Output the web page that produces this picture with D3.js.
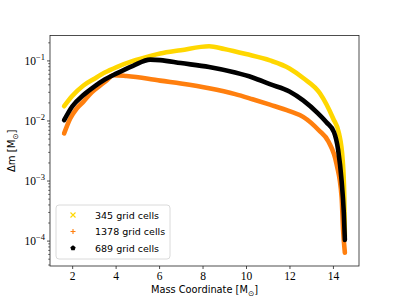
<!DOCTYPE html>
<html><head><meta charset="utf-8">
<script src="https://cdn.jsdelivr.net/npm/d3@7"></script>
<style>body{margin:0;background:#fff}</style>
</head><body>
<svg id="c" width="399" height="299"></svg>
<script>
const seriesNames = ["345 grid cells", "1378 grid cells", "689 grid cells"];
const seriesColors = ["#FFD700", "#FF7F0E", "#000000"];

const x345 = [1.63, 2.0, 2.52, 3.0, 3.5, 4.05, 4.8, 5.6, 6.05, 7.0, 8.3, 9.0, 10.0, 11.1, 12.0, 12.63, 13.4, 14.01, 14.28, 14.45, 14.52, 14.55];
const y345 = [0.0176, 0.026, 0.039, 0.05, 0.064, 0.079, 0.1, 0.121, 0.133, 0.151, 0.176, 0.158, 0.13, 0.102, 0.075, 0.052, 0.029, 0.011, 0.0062, 0.0022, 0.0006, 0.00012];

const x1378 = [1.63, 1.91, 2.2, 2.52, 2.9, 3.29, 3.6, 3.9, 4.5, 5.5, 6.05, 7.0, 8.3, 9.5, 10.3, 11.1, 12.0, 12.63, 13.35, 13.8, 14.17, 14.4, 14.47, 14.55];
const y1378 = [0.0062, 0.011, 0.016, 0.021, 0.03, 0.039, 0.048, 0.058, 0.056, 0.0505, 0.047, 0.042, 0.035, 0.028, 0.023, 0.0187, 0.0146, 0.0117, 0.007, 0.0045, 0.0019, 0.00054, 0.00015, 0.000064];

const x689 = [1.63, 2.0, 2.52, 3.0, 3.5, 4.05, 4.8, 5.59, 6.05, 7.0, 8.3, 9.5, 10.3, 11.1, 12.0, 12.63, 13.3, 13.7, 14.05, 14.24, 14.4, 14.5, 14.55];
const y689 = [0.0103, 0.0174, 0.027, 0.037, 0.049, 0.062, 0.083, 0.105, 0.103, 0.092, 0.079, 0.064, 0.053, 0.041, 0.031, 0.022, 0.0135, 0.0095, 0.0065, 0.0033, 0.001, 0.0003, 0.000105];

const xTicks = [2, 4, 6, 8, 10, 12, 14];
const yTicks = [1e-4, 1e-3, 1e-2, 1e-1];
const yTickExp = ["\u22124", "\u22123", "\u22122", "\u22121"];

const m = {l: 50, r: 359, t: 35.5, b: 266};
const svg = d3.select("#c");
const x = d3.scaleLinear().domain([0.98, 15.2]).range([m.l, m.r]);
const y = d3.scaleLog().domain([3.85e-5, 0.265]).range([m.b, m.t]);

const series = [
  {name: seriesNames[0], color: seriesColors[0], xs: x345, ys: y345, marker: "x"},
  {name: seriesNames[1], color: seriesColors[1], xs: x1378, ys: y1378, marker: "+"},
  {name: seriesNames[2], color: seriesColors[2], xs: x689, ys: y689, marker: "p"}
];

svg.append("clipPath").attr("id", "pc").append("rect")
  .attr("x", m.l).attr("y", m.t).attr("width", m.r - m.l).attr("height", m.b - m.t);

const line = d3.line().x(d => x(d[0])).y(d => y(d[1])).curve(d3.curveMonotoneX);
const g = svg.append("g").attr("clip-path", "url(#pc)");
series.forEach(s => {
  const pts = s.xs.map((v, i) => [v, s.ys[i]]);
  g.append("path").attr("d", line(pts)).attr("fill", "none")
    .attr("stroke", s.color).attr("stroke-width", 4.6)
    .attr("stroke-linejoin", "round").attr("stroke-linecap", "round");
});

const serif = "'Liberation Serif', 'DejaVu Serif', serif";
const xAxis = d3.axisBottom(x).tickValues(xTicks).tickSize(3).tickPadding(3).tickFormat(d3.format("d"));
const gx = svg.append("g").attr("transform", `translate(0,${m.b})`).call(xAxis);
gx.select(".domain").remove();
gx.selectAll("line").attr("stroke", "#000").attr("stroke-width", 0.7);
gx.selectAll("text").attr("font-family", serif).attr("font-size", 11.5).attr("fill", "#000");

const gy = svg.append("g").attr("transform", `translate(${m.l},0)`);
yTicks.forEach((v, i) => {
  gy.append("line").attr("x1", -3).attr("x2", 0).attr("y1", y(v)).attr("y2", y(v)).attr("stroke", "#000").attr("stroke-width", 0.7);
  const t = gy.append("text").attr("x", -5).attr("y", y(v) + 4).attr("text-anchor", "end")
    .attr("font-family", serif).attr("font-size", 11.5).attr("fill", "#000");
  t.append("tspan").text("10");
  t.append("tspan").attr("dy", -5).attr("font-size", 8.5).text(yTickExp[i]);
});
const [y0, y1] = y.domain();
for (let e = -5; e <= 0; e++) {
  for (let k = 2; k <= 9; k++) {
    const v = k * Math.pow(10, e);
    if (v > y0 && v < y1) {
      gy.append("line").attr("x1", -1.8).attr("x2", 0).attr("y1", y(v)).attr("y2", y(v)).attr("stroke", "#000").attr("stroke-width", 0.6);
    }
  }
}

svg.append("rect").attr("x", m.l).attr("y", m.t).attr("width", m.r - m.l).attr("height", m.b - m.t)
  .attr("fill", "none").attr("stroke", "#222").attr("stroke-width", 0.8);

const sans = "'DejaVu Sans', 'Open Sans', sans-serif";
const xl = svg.append("text").attr("x", (m.l + m.r) / 2).attr("y", 293).attr("text-anchor", "middle")
  .attr("font-family", sans).attr("font-size", 9.8).attr("fill", "#000");
xl.append("tspan").text("Mass Coordinate [M");
xl.append("tspan").attr("dy", 2.5).attr("font-size", 7.5).text("\u2299");
xl.append("tspan").attr("dy", -2.5).text("]");

const yl = svg.append("text").attr("transform", `translate(15,${(m.t + m.b) / 2}) rotate(-90)`).attr("text-anchor", "middle")
  .attr("font-family", sans).attr("font-size", 10).attr("fill", "#000");
yl.append("tspan").text("\u0394m [M");
yl.append("tspan").attr("dy", 2.5).attr("font-size", 7.5).text("\u2299");
yl.append("tspan").attr("dy", -2.5).text("]");

const lg = svg.append("g");
lg.append("rect").attr("x", 56).attr("y", 205).attr("width", 114).attr("height", 54).attr("rx", 3)
  .attr("fill", "#fff").attr("fill-opacity", 0.8).attr("stroke", "#d0d0d0").attr("stroke-width", 0.8);
const rowsY = [215, 231.5, 248];
function markerPath(type, r) {
  if (type === "x") return `M${-r},${-r}L${r},${r}M${-r},${r}L${r},${-r}`;
  if (type === "+") return `M${-r},0L${r},0M0,${-r}L0,${r}`;
  const p = d3.range(5).map(i => { const a = -Math.PI / 2 + i * 2 * Math.PI / 5; return [r * Math.cos(a), r * Math.sin(a)]; });
  return "M" + p.map(q => q.join(",")).join("L") + "Z";
}
series.forEach((s, i) => {
  const mk = lg.append("path").attr("transform", `translate(73,${rowsY[i]})`).attr("d", markerPath(s.marker, s.marker === "p" ? 2.8 : 2.5));
  if (s.marker === "p") mk.attr("fill", s.color);
  else mk.attr("fill", "none").attr("stroke", s.color).attr("stroke-width", 1.1);
  lg.append("text").attr("x", 95).attr("y", rowsY[i] + 3.6).attr("font-family", sans).attr("font-size", 9.5).attr("fill", "#000").text(s.name);
});
</script>
</body></html>
